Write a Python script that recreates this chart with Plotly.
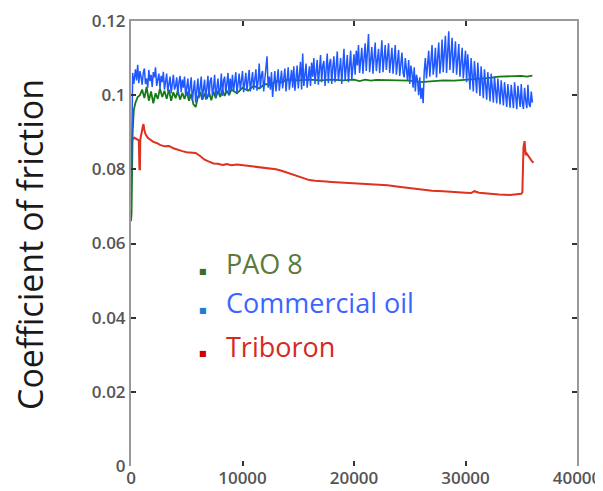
import plotly.graph_objects as go

# ---------------- data ----------------
red_time = [0, 40, 100, 300, 500, 700, 760, 800, 830, 870, 950, 1050, 1120, 1200, 1300, 1500, 1700,
            2000, 2300, 2600, 3000, 3400, 3800, 4200, 4600, 5000, 5400, 5800, 6200, 6600, 7000, 7400,
            7800, 8200, 8600, 9000, 9500, 10000, 10500, 11000, 11500, 12000, 12500, 13000, 13500, 14000,
            14500, 15000, 15500, 16000, 16500, 17000, 17500, 18000, 18500, 19000, 19500, 20000, 21000,
            22000, 23000, 24000, 25000, 26000, 27000, 28000, 29000, 30000, 30500, 30800, 31200, 32000,
            33000, 34000, 34600, 35000, 35100, 35200, 35300, 35400, 35500, 35650, 35800, 35950, 36100]
red_cof = [0.0800, 0.0870, 0.0880, 0.0885, 0.0882, 0.0878, 0.0800, 0.0800, 0.0880, 0.0890, 0.0898,
           0.0915, 0.0922, 0.0905, 0.0895, 0.0885, 0.0880, 0.0874, 0.0871, 0.0866, 0.0862, 0.0863,
           0.0857, 0.0852, 0.0849, 0.0846, 0.0846, 0.0844, 0.0836, 0.0826, 0.0821, 0.0816, 0.0815,
           0.0812, 0.0814, 0.0811, 0.0813, 0.0811, 0.0810, 0.0807, 0.0807, 0.0804, 0.0803, 0.0800,
           0.0796, 0.0791, 0.0785, 0.0779, 0.0774, 0.0771, 0.0769, 0.0769, 0.0767, 0.0766, 0.0765,
           0.0765, 0.0763, 0.0763, 0.0762, 0.0760, 0.0757, 0.0753, 0.0749, 0.0746, 0.0742, 0.0741,
           0.0738, 0.0737, 0.0736, 0.0741, 0.0737, 0.0734, 0.0732, 0.0731, 0.0733, 0.0734, 0.0738,
           0.0860, 0.0876, 0.0838, 0.0842, 0.0835, 0.0828, 0.0822, 0.0818]

green_time = [0, 50, 100, 150, 250, 400, 600, 800,
              1000, 1200, 1400, 1600, 1800, 2000, 2200, 2400, 2600, 2800, 3000, 3200, 3400, 3600,
              3800, 4000, 4200, 4400, 4600, 4800, 5000, 5200, 5400, 5600, 5800, 6000, 6200, 6400,
              6600, 6800, 7000, 7200, 7400, 7600, 7800, 8000, 8200, 8400, 8600, 8800, 9000,
              9500, 10000, 10500, 11000, 11500, 12000, 12500, 13000, 13500, 14000, 15000, 16000,
              17000, 18000, 19000, 20000, 20500, 21000, 21500, 22000, 23000, 24000, 25000, 26000,
              27000, 28000, 29000, 30000, 31000, 32000, 33000, 34000, 35000, 35500, 36000]
green_cof = [0.0660, 0.0680, 0.0800, 0.0900, 0.0960, 0.0980, 0.0995, 0.1000,
             0.1015, 0.0992, 0.1022, 0.0985, 0.1010, 0.0978, 0.1005, 0.0990, 0.1018, 0.0995,
             0.1012, 0.0990, 0.1015, 0.0985, 0.1008, 0.0992, 0.1012, 0.0988, 0.1006, 0.0990,
             0.1010, 0.0985, 0.1003, 0.0975, 0.0968, 0.0995, 0.1008, 0.0988, 0.1004, 0.0990,
             0.1008, 0.0986, 0.1010, 0.0992, 0.1012, 0.0995, 0.1015, 0.0998, 0.1012, 0.1000,
             0.1015, 0.1005, 0.1020, 0.1012, 0.1025, 0.1018, 0.1030, 0.1028, 0.1038, 0.1035,
             0.1042, 0.1040, 0.1042, 0.1040, 0.1042, 0.1040, 0.1042, 0.1038, 0.1042, 0.1039,
             0.1041, 0.1040, 0.1038, 0.1039, 0.1035, 0.1038, 0.1040, 0.1039, 0.1041, 0.1043,
             0.1046, 0.1050, 0.1051, 0.1052, 0.1050, 0.1053]

blue_start_time = [0, 80, 150, 250]
blue_start_cof = [0.0690, 0.0950, 0.1060, 0.1030]
blue_first_t = 400
blue_step = 100  # sampling interval of the noisy record
blue_cof = [
    # 400-1000
    0.1070, 0.1040, 0.1082, 0.1032, 0.1065, 0.1050, 0.1028,
    # 1100-3000
    0.1060, 0.1072, 0.1030, 0.1045, 0.1020, 0.1068, 0.1038, 0.1055, 0.1022, 0.1062,
    0.1048, 0.1075, 0.1025, 0.1040, 0.1058, 0.1018, 0.1052, 0.1035, 0.1063, 0.1015,
    # 3100-5000
    0.1045, 0.1058, 0.1010, 0.1030, 0.1050, 0.1005, 0.1040, 0.1055, 0.1015, 0.1025,
    0.1048, 0.1000, 0.1035, 0.1052, 0.1008, 0.1042, 0.1020, 0.1050, 0.0998, 0.1030,
    # 5100-9000
    0.1045, 0.0995, 0.1030, 0.1048, 0.0985, 0.1020, 0.1040, 0.0980, 0.1010, 0.1045,
    0.0992, 0.1035, 0.1050, 0.0990, 0.1025, 0.1042, 0.0988, 0.1015, 0.1052, 0.0995,
    0.1038, 0.1048, 0.1000, 0.1020, 0.1055, 0.0993, 0.1030, 0.1045, 0.1002, 0.1015,
    0.1058, 0.0998, 0.1040, 0.1050, 0.1005, 0.1028, 0.1060, 0.1000, 0.1045, 0.1012,
    # 9100-12000
    0.1055, 0.1010, 0.1040, 0.1062, 0.1005, 0.1030, 0.1058, 0.1015, 0.1045, 0.1065,
    0.1008, 0.1035, 0.1060, 0.1012, 0.1050, 0.1068, 0.1010, 0.1040, 0.1062, 0.1015,
    0.1048, 0.1070, 0.1012, 0.1038, 0.1085, 0.1018, 0.1055, 0.1065, 0.1010, 0.1045,
    # 12100-16000
    0.1068, 0.1105, 0.1020, 0.1050, 0.1015, 0.1062, 0.0995, 0.1040, 0.1065, 0.1010,
    0.1035, 0.1070, 0.1012, 0.1050, 0.1066, 0.1018, 0.1042, 0.1072, 0.1010, 0.1055,
    0.1075, 0.1015, 0.1045, 0.1068, 0.1020, 0.1078, 0.1012, 0.1050, 0.1080, 0.1018,
    0.1060, 0.1090, 0.1015, 0.1112, 0.1025, 0.1070, 0.1085, 0.1020, 0.1060, 0.1078,
    # 16100-20000
    0.1025, 0.1088, 0.1050, 0.1100, 0.1030, 0.1075, 0.1095, 0.1028, 0.1065, 0.1108,
    0.1035, 0.1080, 0.1092, 0.1025, 0.1070, 0.1112, 0.1032, 0.1085, 0.1098, 0.1030,
    0.1075, 0.1105, 0.1035, 0.1090, 0.1118, 0.1038, 0.1080, 0.1100, 0.1030, 0.1092,
    0.1125, 0.1040, 0.1085, 0.1108, 0.1035, 0.1095, 0.1120, 0.1042, 0.1088, 0.1110,
    # 20100-24400
    0.1055, 0.1120, 0.1080, 0.1135, 0.1060, 0.1100, 0.1128, 0.1058, 0.1090, 0.1140,
    0.1065, 0.1110, 0.1165, 0.1062, 0.1095, 0.1130, 0.1058, 0.1105, 0.1142, 0.1065,
    0.1088, 0.1125, 0.1060, 0.1112, 0.1148, 0.1062, 0.1095, 0.1135, 0.1068, 0.1102,
    0.1140, 0.1060, 0.1090, 0.1128, 0.1058, 0.1110, 0.1135, 0.1055, 0.1085, 0.1122,
    0.1052, 0.1098, 0.1115, 0.1060,
    # 24500-26200
    0.1048, 0.1100, 0.1072, 0.1040, 0.1095, 0.1030, 0.1080, 0.1060, 0.1020, 0.1075,
    0.1010, 0.1055, 0.1040, 0.1000, 0.1048, 0.0990, 0.1020, 0.0978,
    # 26300-30000
    0.1065, 0.1100, 0.1045, 0.1085, 0.1120, 0.1050, 0.1095, 0.1135, 0.1055, 0.1080,
    0.1128, 0.1048, 0.1100, 0.1142, 0.1058, 0.1090, 0.1150, 0.1062, 0.1115, 0.1160,
    0.1060, 0.1105, 0.1172, 0.1068, 0.1120, 0.1155, 0.1060, 0.1098, 0.1145, 0.1055,
    0.1110, 0.1138, 0.1050, 0.1090, 0.1128, 0.1045, 0.1100, 0.1120,
    # 30100-33000
    0.1035, 0.1110, 0.1065, 0.1015, 0.1100, 0.1050, 0.1010, 0.1092, 0.1040, 0.1005,
    0.1088, 0.1030, 0.0998, 0.1078, 0.1025, 0.0992, 0.1070, 0.1020, 0.0988, 0.1062,
    0.1010, 0.0983, 0.1058, 0.1005, 0.0980, 0.1050, 0.1000, 0.0978, 0.1045, 0.0995,
    # 33100-36000
    0.0975, 0.1040, 0.0990, 0.0972, 0.1035, 0.1000, 0.0968, 0.1030, 0.0985, 0.0966,
    0.1028, 0.0995, 0.0965, 0.1035, 0.0980, 0.0962, 0.1025, 0.0990, 0.0968, 0.1030,
    0.0978, 0.0963, 0.1020, 0.0985, 0.0965, 0.1028, 0.0975, 0.0968, 0.1010, 0.0980,
]
blue_time = blue_start_time + [blue_first_t + i * blue_step for i in range(len(blue_cof))]
blue_all = blue_start_cof + blue_cof

x_ticks = [0, 10000, 20000, 30000, 40000]
y_ticks = [0, 0.02, 0.04, 0.06, 0.08, 0.1, 0.12]
y_tick_text = ["0", "0.02", "0.04", "0.06", "0.08", "0.1", "0.12"]

legend_names = ["PAO 8", "Commercial oil", "Triboron"]
legend_text_colors = ["#5b7a3a", "#3a66ff", "#d42a22"]
legend_marker_colors = ["#3f6b25", "#1a7fd0", "#c80000"]

GREEN = "#157a15"
BLUE = "#2058ff"
RED = "#e0301f"

fig = go.Figure()
fig.add_trace(go.Scatter(x=red_time, y=red_cof, mode="lines",
                         line=dict(color=RED, width=2), showlegend=False))
fig.add_trace(go.Scatter(x=green_time, y=green_cof, mode="lines",
                         line=dict(color=GREEN, width=1.8), showlegend=False))
fig.add_trace(go.Scatter(x=blue_time, y=blue_all, mode="lines",
                         line=dict(color=BLUE, width=1.5), showlegend=False))
# invisible trace for the top axis
fig.add_trace(go.Scatter(x=[0], y=[0], xaxis="x2", mode="markers",
                         marker=dict(opacity=0), showlegend=False, hoverinfo="skip"))

# legend drawn as text
legend_y = [0.0545, 0.0440, 0.0322]
marker_y = [0.0525, 0.0420, 0.0303]
for name, tc, mc, ly, my in zip(legend_names, legend_text_colors, legend_marker_colors, legend_y, marker_y):
    fig.add_annotation(x=8350, y=ly, text=name, showarrow=False, xanchor="left", yanchor="middle",
                       font=dict(family="Open Sans", size=27, color=tc))
    fig.add_annotation(x=6450, y=my, text="■", showarrow=False, xanchor="center", yanchor="middle",
                       font=dict(family="DejaVu Sans", size=8, color=mc))

fig.add_annotation(xref="paper", yref="paper", x=-0.226, y=0.497, text="Coefficient of friction",
                   textangle=-90, showarrow=False, xanchor="center", yanchor="middle",
                   font=dict(family="Open Sans", size=34, color="#1a1a1a"))

tickfont = dict(family="Open Sans", size=17, color="#555555", weight=600)
# page body has an 8px margin: figure is shrunk so the plot area lands where the reference has it
fig.update_layout(
    width=595, height=483,
    margin=dict(l=123, r=26, t=13, b=25),
    paper_bgcolor="white", plot_bgcolor="white",
    xaxis=dict(range=[0, 40000], tickvals=x_ticks, ticktext=[str(v) for v in x_ticks],
               showline=False, showgrid=False, zeroline=False, ticks="inside", ticklen=5,
               tickcolor="#333333", tickwidth=1.5, tickfont=tickfont, automargin=False),
    xaxis2=dict(range=[0, 40000], overlaying="x", side="top", tickvals=x_ticks, showticklabels=False,
                showline=True, linecolor="#9a9a9a", linewidth=2, showgrid=False, zeroline=False,
                ticks="inside", ticklen=5, tickcolor="#333333", tickwidth=1.5),
    yaxis=dict(range=[0, 0.12], tickvals=y_ticks, ticktext=y_tick_text, showline=True,
               linecolor="#9a9a9a", linewidth=2, mirror="ticks", showgrid=False, zeroline=False,
               ticks="inside", ticklen=5, tickcolor="#333333", tickwidth=1.5, tickfont=tickfont,
               automargin=False),
)

fig.write_html("out.html")
